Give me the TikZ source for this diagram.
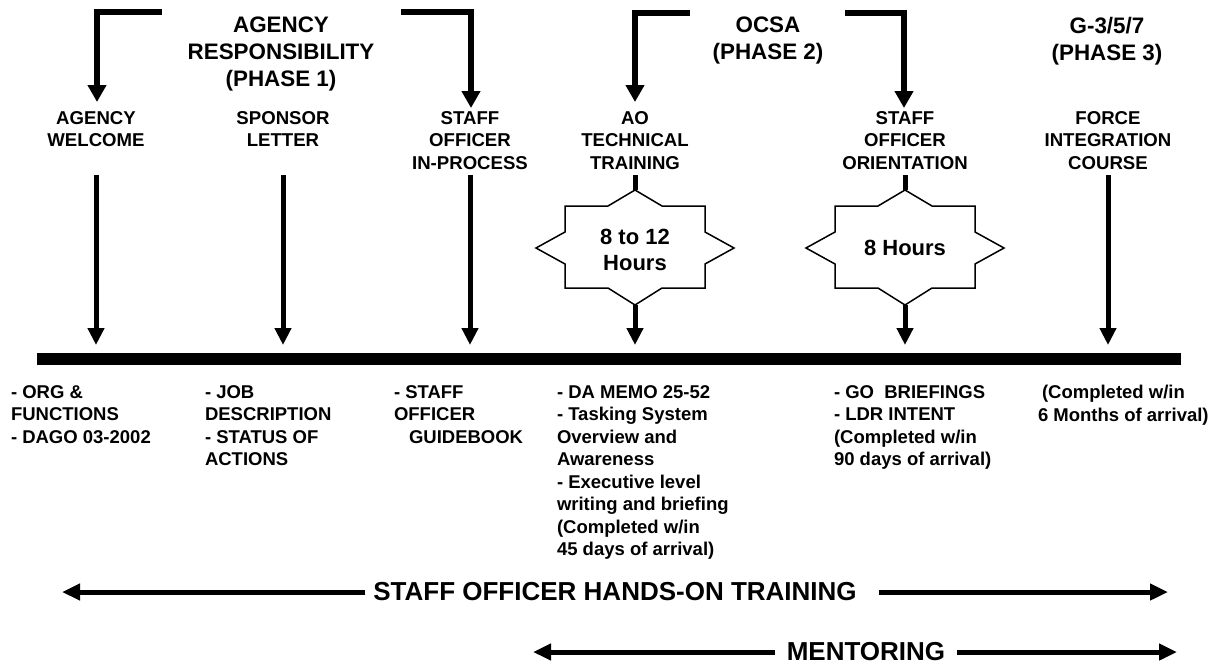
\documentclass[tikz,border=0pt]{standalone}
\usepackage{fontspec}
\setmainfont{Liberation Sans}
\usetikzlibrary{arrows.meta,calc}
\begin{document}
\begin{tikzpicture}[x=1pt,y=-1pt,
  every node/.style={inner sep=0pt, outer sep=0pt},
  head/.style={font=\bfseries\fontsize{22.4}{27}\selectfont, align=center, anchor=north},
  lab/.style={font=\bfseries\fontsize{18.6}{22.5}\selectfont, align=center, anchor=north},
  note/.style={font=\bfseries\fontsize{18.5}{22.5}\selectfont, align=left, anchor=north west},
  big/.style={font=\bfseries\fontsize{26}{30}\selectfont},
  startext/.style={font=\bfseries\fontsize{22}{26}\selectfont, align=center},
  brk/.style={line width=5.5pt, line join=miter, -{Triangle[width=18pt,length=17pt]}},
  vline/.style={line width=5pt, -{Triangle[width=16pt,length=17pt]}},
  stem/.style={line width=5pt},
  harr/.style={line width=5pt, -{Triangle[width=16pt,length=18pt]}},
  starshape/.style={line width=1.5pt, fill=white, line join=miter},
  hstar/.pic={\draw[starshape] (0,-57) -- ++(27,16) -- ++(43,0) -- ++(0,26) -- ++(29,16) -- ++(-29,16) -- ++(0,24) -- ++(-43,0) -- ++(-27,17) -- ++(-27,-17) -- ++(-43,0) -- ++(0,-24) -- ++(-29,-16) -- ++(29,-16) -- ++(0,-26) -- ++(43,0) -- cycle;},
]
\useasboundingbox[fill=white] (0,0) rectangle (1211,667);

% headings
\node[head] (H1) at (281,17) {AGENCY\\RESPONSIBILITY\\(PHASE 1)};
\node[head] (H2) at (768,17) {OCSA\\(PHASE 2)};
\node[head] (H3) at (1107,17) {G-3/5/7\\(PHASE 3)};

% column labels
\node[lab] (L1) at (96,111.3) {AGENCY\\WELCOME};
\node[lab] (L2) at (283,111.3) {SPONSOR\\LETTER};
\node[lab] (L3) at (470,111.3) {STAFF\\OFFICER\\IN-PROCESS};
\node[lab] (L4) at (635,111.3) {AO\\TECHNICAL\\TRAINING};
\node[lab] (L5) at (905,111.3) {STAFF\\OFFICER\\ORIENTATION};
\node[lab] (L6) at (1108,111.3) {FORCE\\INTEGRATION\\COURSE};

% bracket coordinates
\coordinate (b1s) at (162,12);  \coordinate (b1e) at (97,102);
\coordinate (b2s) at (401,12);  \coordinate (b2e) at (471,108);
\coordinate (b3s) at (690,13);  \coordinate (b3e) at (635,102);
\coordinate (b4s) at (845,13);  \coordinate (b4e) at (904,108);
\draw[brk] (b1s) -| (b1e);
\draw[brk] (b2s) -| (b2e);
\draw[brk] (b3s) -| (b3e);
\draw[brk] (b4s) -| (b4e);

% levels
\coordinate (top) at (0,175);
\coordinate (tip) at (0,345);
\coordinate (barL) at (37,359);
\coordinate (barR) at (1181,359);

% stars
\coordinate (c1) at (635,247);
\coordinate (c2) at (905,247);
\coordinate (s1top) at (635,190); \coordinate (s1bot) at (635,305);
\coordinate (s2top) at (905,190); \coordinate (s2bot) at (905,305);

\draw[stem] (L4 |- top) -- (s1top);
\draw[stem] (L5 |- top) -- (s2top);
\pic at (c1) {hstar};
\pic at (c2) {hstar};
\node[startext, anchor=north] (S1) at (635,229) {8 to 12\\Hours};
\node[startext] (S2) at (905,248) {8 Hours};

% vertical arrows to timeline
\draw[vline] (L1 |- top) -- (L1 |- tip);
\draw[vline] (L2 |- top) -- (L2 |- tip);
\draw[vline] (L3 |- top) -- (L3 |- tip);
\draw[vline] (s1bot) -- (L4 |- tip);
\draw[vline] (s2bot) -- (L5 |- tip);
\draw[vline] (L6 |- top) -- (L6 |- tip);

% timeline bar
\draw[line width=12pt] (barL) -- (barR);

% notes
\node[note] (N1) at (11,385.3) {- ORG \&\\FUNCTIONS\\- DAGO 03-2002};
\node[note] (N2) at (205,385.3) {- JOB\\DESCRIPTION\\- STATUS OF\\ACTIONS};
\node[note] (N3) at (394,385.3) {- STAFF\\OFFICER\\\hspace*{15pt}GUIDEBOOK};
\node[note] (N4) at (557,385.3) {- DA MEMO 25-52\\- Tasking System\\Overview and\\Awareness\\- Executive level\\writing and briefing\\(Completed w/in\\45 days of arrival)};
\node[note] (N5) at (834,385.3) {- GO\ \ BRIEFINGS\\- LDR INTENT\\(Completed w/in\\90 days of arrival)};
\node[note] (N6) at (1038,385.3) {\hspace*{4pt}(Completed w/in\\6 Months of arrival)};

% bottom arrows
\node[big] (T1) at (615,592) {STAFF OFFICER HANDS-ON TRAINING};
\coordinate (tL1) at (62,592);
\coordinate (tR1) at (1168,592);
\draw[harr] ([xshift=-8pt]T1.west) -- (tL1);
\draw[harr] ([xshift=22pt]T1.east) -- (tR1);

\node[big] (T2) at (866,652) {MENTORING};
\coordinate (tL2) at (533,652);
\coordinate (tR2) at (1177,652);
\draw[harr] ([xshift=-12pt]T2.west) -- (tL2);
\draw[harr] ([xshift=12pt]T2.east) -- (tR2);
\end{tikzpicture}
\end{document}
